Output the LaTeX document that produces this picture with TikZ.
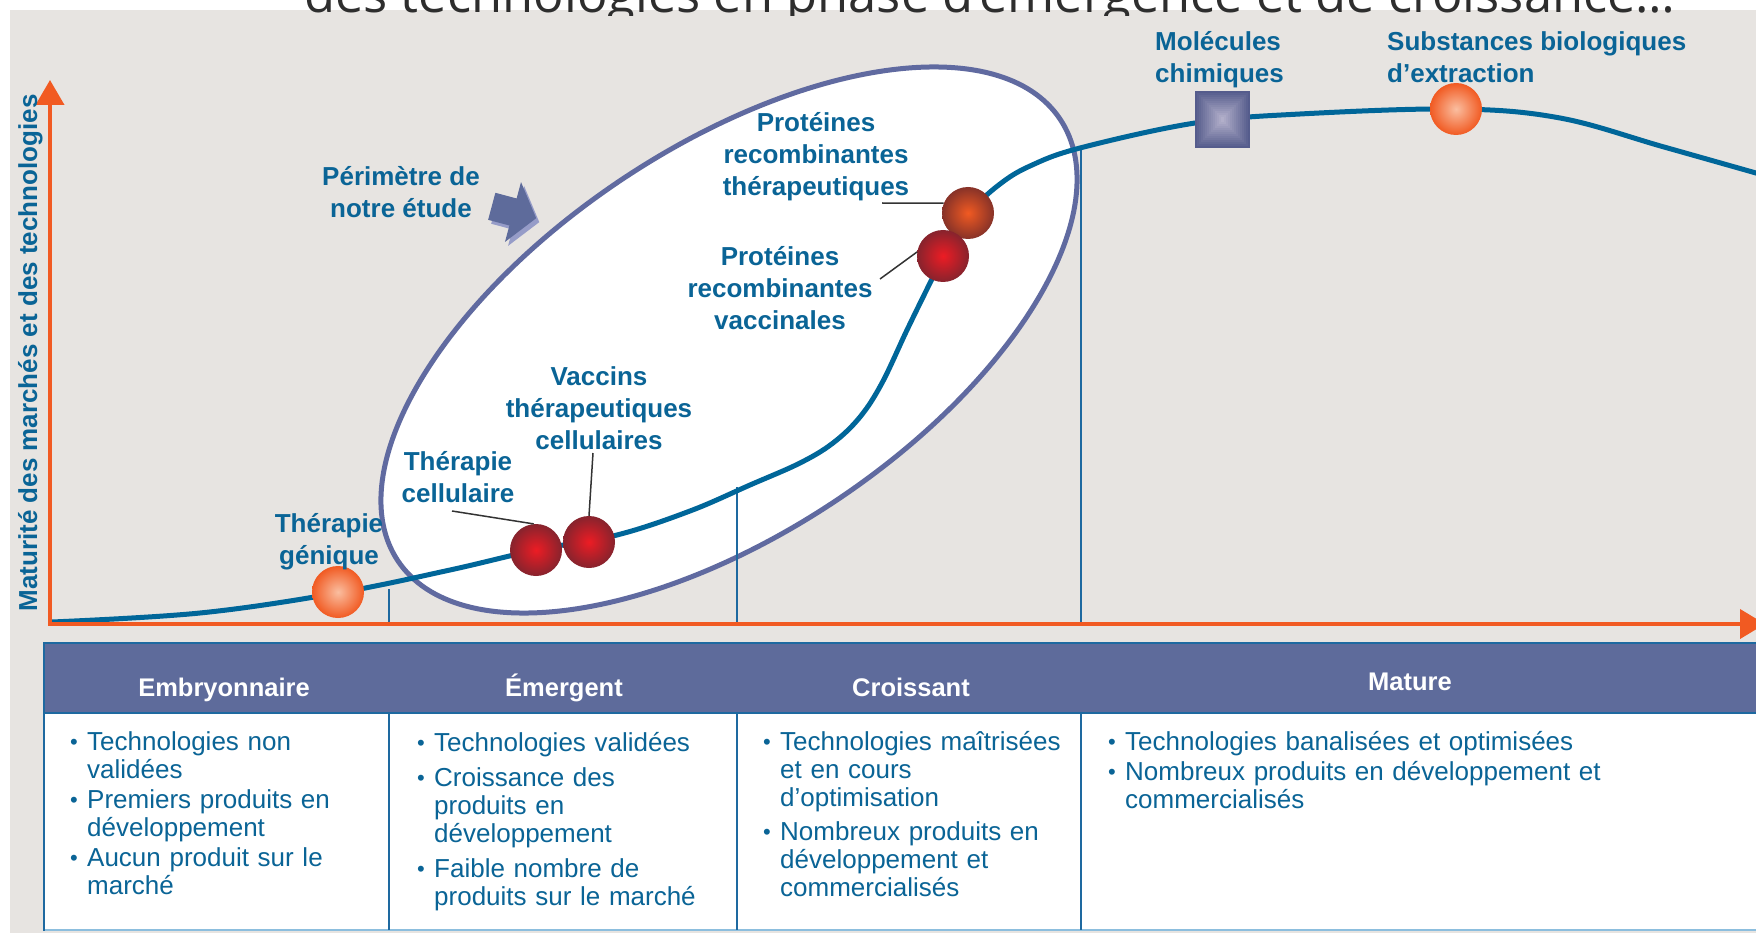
\documentclass[tikz,border=0pt]{standalone}
\usepackage{fontspec}
\usepackage{graphicx}
\setmainfont{Liberation Sans}
\newfontfamily\titlefont{Open Sans}
\usetikzlibrary{arrows.meta,calc}

\definecolor{bg}{RGB}{231,228,225}
\definecolor{cblue}{RGB}{0,102,153}
\definecolor{lblue}{RGB}{10,100,150}
\definecolor{hdr}{RGB}{94,107,155}
\definecolor{ell}{RGB}{96,106,160}
\definecolor{axo}{RGB}{241,90,34}
\definecolor{tline}{RGB}{30,105,160}
\definecolor{tlight}{RGB}{140,190,222}
\definecolor{redc}{RGB}{237,28,36}
\definecolor{rede}{RGB}{135,35,45}
\definecolor{orc}{RGB}{250,190,160}
\definecolor{ore}{RGB}{241,90,34}
\definecolor{brc}{RGB}{241,90,34}
\definecolor{bre}{RGB}{135,50,40}
\definecolor{sqc}{RGB}{178,175,202}
\definecolor{sqe}{RGB}{85,92,140}
\definecolor{arrc}{RGB}{94,107,155}
\definecolor{arrs}{RGB}{150,156,200}

\newcommand{\stt}{\rule{0pt}{22pt}}
\newcommand{\bitem}[1]{\par\hangindent=17pt\hangafter=1\noindent\makebox[17pt][l]{\raisebox{1pt}{\fontsize{22}{22}\selectfont\textbullet}}#1}

\begin{document}
\begin{tikzpicture}[x=1pt,y=-1pt,
  lbl/.style={font=\fontsize{26}{32}\selectfont\bfseries, text=lblue, align=center, inner sep=0, anchor=north},
  lbll/.style={font=\fontsize{26}{32}\selectfont\bfseries, text=lblue, align=left, inner sep=0, anchor=north west},
  ball/.style={circle, minimum size=52pt, inner sep=0},
  redball/.style={ball, inner color=redc, outer color=rede},
  orball/.style={ball, inner color=orc, outer color=ore},
  brball/.style={ball, inner color=brc, outer color=bre},
  leader/.style={draw=black!80, line width=1.5pt},
  cell/.style={anchor=north west, inner sep=0, text width=600pt, text=lblue, font=\fontsize{26}{28}\selectfont},
  hdrtxt/.style={font=\fontsize{25.5}{30}\selectfont\bfseries, text=white, anchor=base, inner sep=0},
  tab/.style={draw=tline, line width=2pt}
]
\useasboundingbox (0,0) rectangle (1756,933);
\fill[white] (0,0) rectangle (1756,933);
\fill[bg] (10,10) rectangle (1756,933);

% title (cut off)
\begin{scope}
\clip (0,0) rectangle (1756,16);
\node[anchor=base west, inner sep=0, text=black!82] (title) at (304,13)
  {\resizebox{1371pt}{!}{\titlefont des technologies en phase d’émergence et de croissance…}};
\end{scope}

% perimeter ellipse
\draw[draw=ell, line width=5pt, fill=white, rotate around={33.7:(729,340)}]
  (729,340) ellipse [x radius=398pt, y radius=193pt];

% perimeter arrow
\begin{scope}[shift={(513,212)}, rotate=-15]
\fill[arrs, shift={(4,3)}] (-22,-14) -- (0,-14) -- (0,-31) -- (24,0) -- (0,31) -- (0,14) -- (-22,14) -- cycle;
\fill[arrc] (-22,-14) -- (0,-14) -- (0,-31) -- (24,0) -- (0,31) -- (0,14) -- (-22,14) -- cycle;
\end{scope}

% vertical phase lines
\draw[tline, line width=1.5pt] (389,589) -- (389,624) (737,487) -- (737,624) (1081,147) -- (1081,624);

% curve
\draw[cblue, line width=5pt] plot[smooth, tension=0.6] coordinates {(52,622) (200,613) (338,593) (450,570) (536,550) (617,535) (690,511) (750,485) (800,463) (833,443) (860,417) (882,383) (907,330) (930,283) (950,243) (972,210) (1000,184) (1030,166) (1080,148) (1195,123) (1300,114) (1456,109) (1560,118) (1664,147) (1770,177)};

% axes
\draw[axo, line width=4pt, {Triangle[width=28pt,length=25pt]}-{Triangle[width=29pt,length=25pt]}]
  (50,80) -- (50,624) -- (1765,624);

% markers
\node[orball] (gen) at (338,592) {};
\node[redball] (cel) at (536,550) {};
\node[redball] (vtc) at (589,542) {};
\node[brball] (prt) at (968,213) {};
\node[redball] (prv) at (943,256) {};
\node[orball] (sub) at (1456,109) {};
\foreach \i in {0,...,13} {
  \pgfmathsetmacro\p{100*\i/13}
  \fill[sqc!\p!sqe] (1195+\i*2,91+\i*2) rectangle (1250-\i*2,148-\i*2);
}

% labels
\node[lbl] (lper) at (401,163) {\stt Périmètre de\\notre étude};
\node[lbl] (lprt) at (816,109) {\stt Protéines\\recombinantes\\thérapeutiques};
\node[lbl] (lprv) at (780,243) {\stt Protéines\\recombinantes\\vaccinales};
\node[lbl] (lvtc) at (599,363) {\stt Vaccins\\thérapeutiques\\cellulaires};
\node[lbl] (lcel) at (458,448) {\stt Thérapie\\cellulaire};
\node[lbl] (lgen) at (329,510) {\stt Thérapie\\génique};
\node[lbll] (lmol) at (1155,28) {\stt Molécules\\chimiques};
\node[lbll] (lsub) at (1387,28) {\stt Substances biologiques\\d’extraction};
\node[font=\fontsize{26}{26}\selectfont\bfseries, text=lblue, rotate=90, anchor=base, inner sep=0] (ylab) at (37,353) {Maturité des marchés et des technologies};

% leaders
\coordinate (aprt) at (882,203);
\coordinate (aprv) at (880,279);
\coordinate (avtc) at (593,453);
\coordinate (acel) at (452,511);
\draw[leader] (aprt) -- (prt.158);
\draw[leader] (aprv) -- (prv.171);
\draw[leader] (avtc) -- (vtc.north);
\draw[leader] (acel) -- (cel.95);

% table
\draw[tab, fill=hdr] (44,643) rectangle (1775,713);
\draw[tab, fill=white] (44,713) rectangle (1775,930);
\draw[tlight, line width=2pt] (45,930) -- (1775,930);
\draw[tab] (389,713) -- (389,930) (737,713) -- (737,930) (1081,713) -- (1081,930);

\node[hdrtxt] (h1) at (224,696) {Embryonnaire};
\node[hdrtxt] (h2) at (564,696) {Émergent};
\node[hdrtxt] (h3) at (911,696) {Croissant};
\node[hdrtxt] (h4) at (1410,690) {Mature};

\node[cell] (c1) at (70,720) {\setlength\parskip{2pt}%
  \bitem{\stt Technologies non\newline validées}%
  \bitem{Premiers produits en\newline développement}%
  \bitem{Aucun produit sur le\newline marché}\par};
\node[cell] (c2) at (417,716) {\setlength\parskip{7pt}%
  \bitem{\stt Technologies validées}%
  \bitem{Croissance des\newline produits en\newline développement}%
  \bitem{Faible nombre de\newline produits sur le marché}\par};
\node[cell] (c3) at (763,716) {\setlength\parskip{6pt}%
  \bitem{\stt Technologies maîtrisées\newline et en cours\newline d’optimisation}%
  \bitem{Nombreux produits en\newline développement et\newline commercialisés}\par};
\node[cell] (c4) at (1108,720) {\setlength\parskip{2pt}%
  \bitem{\stt Technologies banalisées et optimisées}%
  \bitem{Nombreux produits en développement et\newline commercialisés}\par};
\end{tikzpicture}
\end{document}
